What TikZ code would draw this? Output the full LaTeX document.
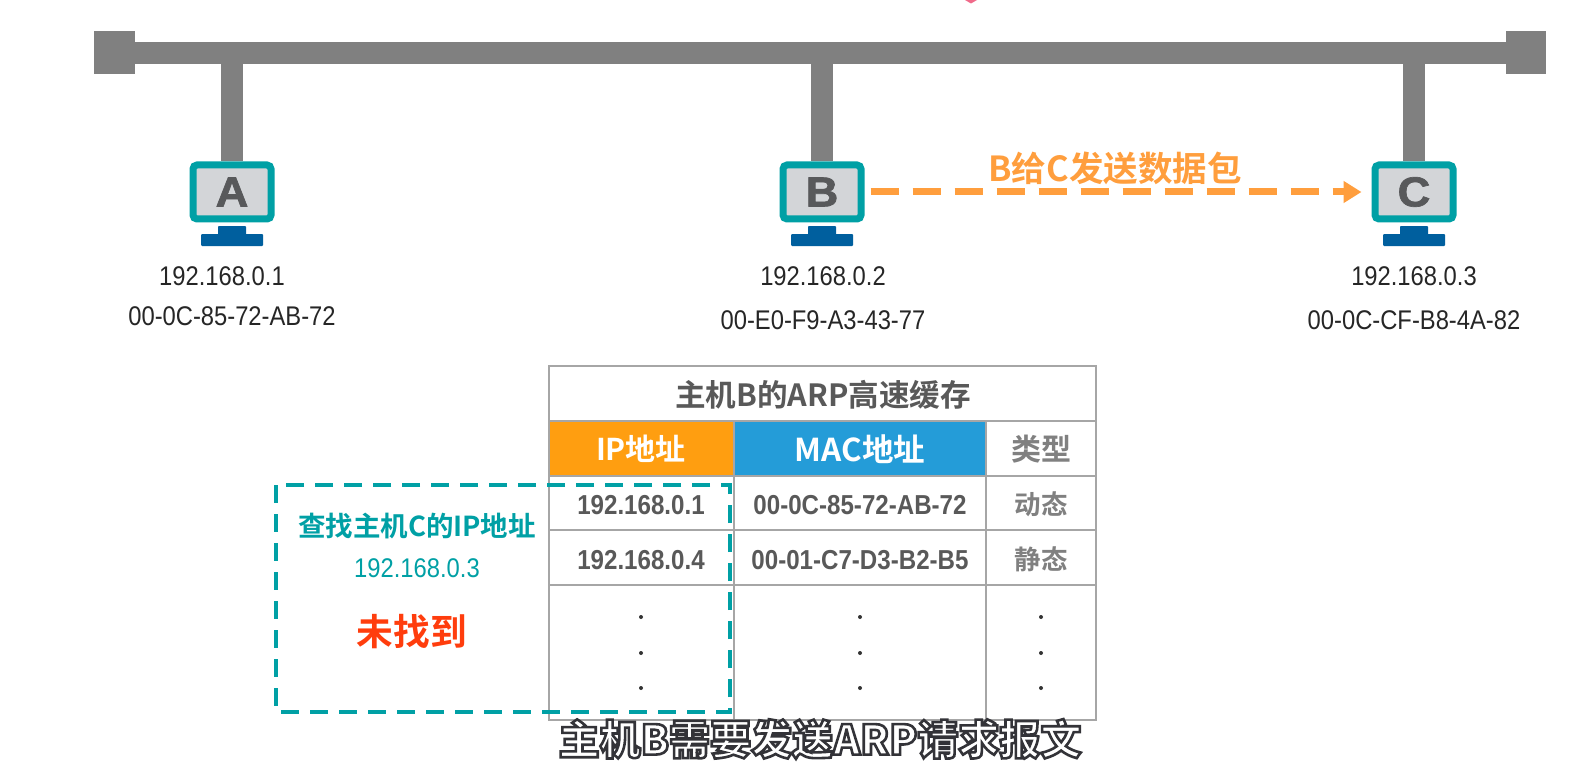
\documentclass[tikz,border=0pt]{standalone}
\usepackage{fontspec}
\usetikzlibrary{arrows.meta}
\setmainfont{Liberation Sans}
\newfontfamily\lat[FakeStretch=0.88]{Liberation Sans}
\newfontfamily\latb[FakeStretch=0.88]{Liberation Sans Bold}
\newfontfamily\pcf[FakeBold=1.6,FakeStretch=1.08]{Liberation Sans Bold}
\newfontfamily\cjk{Noto Sans CJK SC Bold}
\newfontfamily\cjkh{Noto Sans CJK SC Black}
\newcommand{\fs}[1]{\fontsize{#1}{#1}\selectfont}
\newcommand{\outlined}[1]{\special{pdf:code q 2 Tr 2.6 w 0.2 0.2 0.22 RG}#1\special{pdf:code 0 Tr Q}}
\definecolor{bus}{HTML}{808080}
\definecolor{teal1}{HTML}{00A0A5}
\definecolor{screen1}{HTML}{D3D5D8}
\definecolor{stand1}{HTML}{005F9E}
\definecolor{letter1}{HTML}{58595B}
\definecolor{orange1}{HTML}{FF9E3D}
\definecolor{hdro}{HTML}{FF9E10}
\definecolor{hdrb}{HTML}{249CD8}
\definecolor{grid1}{HTML}{A6A6A6}
\definecolor{txt1}{HTML}{595959}
\definecolor{txt2}{HTML}{808080}
\definecolor{red1}{HTML}{FF3D0D}
\definecolor{pink1}{HTML}{F06A8A}
\tikzset{
  busbar/.style={fill=bus,draw=none},
  addr/.style={font=\lat\fs{27},text=black!85,inner sep=0pt,anchor=center},
  cellb/.style={font=\latb\fs{27.4},text=txt1,inner sep=0pt,anchor=center},
  cjkcell/.style={font=\cjk\fs{30},text=txt2,inner sep=0pt,anchor=center},
  dotc/.style={circle,fill=black!80,inner sep=0pt,minimum size=4pt},
  hline/.style={draw=grid1,line width=1.8pt},
}
\newcommand{\pc}[3]{% name, centre x, letter
  \begin{scope}[shift={(#2,0)}]
    \fill[stand1,rounded corners=0.8pt] (-14,226) rectangle (14,236);
    \fill[stand1,rounded corners=1pt] (-31,234) rectangle (31,246);
    \node[draw=teal1,line width=7pt,fill=screen1,rounded corners=4pt,minimum width=78pt,minimum height=54pt,inner sep=0pt,
      font=\pcf\fs{42},text=letter1] (#1) at (0,192) {#3};
  \end{scope}}
\begin{document}
\begin{tikzpicture}[x=1pt,y=-1pt]
\useasboundingbox (0,0) rectangle (1587,762);
\fill[white] (0,0) rectangle (1587,762);
% top pink mark
\fill[pink1] (965,0) -- (977,0) -- (971,3.5) -- cycle;
% bus
\fill[busbar] (94,31) rectangle (135,74);
\fill[busbar] (1506,31) rectangle (1546,74);
\fill[busbar] (135,42) rectangle (1506,64);
\coordinate (ja) at (232,63);
\coordinate (jb) at (822,63);
\coordinate (jc) at (1414,63);
\pc{A}{232}{A}
\pc{B}{822}{B}
\pc{C}{1414}{C}
\draw[bus,line width=22pt] (ja) -- (A.north);
\draw[bus,line width=22pt] (jb) -- (B.north);
\draw[bus,line width=22pt] (jc) -- (C.north);
% addresses
\node[addr] (ipa) at (222,276) {192.168.0.1};
\node[addr] (maca) at (232,316) {00-0C-85-72-AB-72};
\node[addr] (ipb) at (823,276) {192.168.0.2};
\node[addr] (macb) at (823,320) {00-E0-F9-A3-43-77};
\node[addr] (ipc) at (1414,276) {192.168.0.3};
\node[addr] (macc) at (1414,320) {00-0C-CF-B8-4A-82};
% arrow
\draw[orange1,line width=7pt,dash pattern=on 28pt off 14pt,-{Triangle[length=18pt,width=21pt]}] ([xshift=6pt]B.east) -- ([xshift=-10pt]C.west);
\node[font=\cjk\fs{34.5},text=orange1,inner sep=0pt] (lb) at (1115,168) {B给C发送数据包};
% table
\fill[hdro] (549,421) rectangle (734,476);
\fill[hdrb] (734,421) rectangle (986,476);
\draw[hline] (549,366) rectangle (1096,720);
\draw[hline] (549,421) -- (1096,421);
\draw[hline] (549,476) -- (1096,476);
\draw[hline] (549,530) -- (1096,530);
\draw[hline] (549,585) -- (1096,585);
\draw[hline] (734,421) -- (734,720);
\draw[hline] (986,421) -- (986,720);
\node[font=\cjk\fs{30.6},text=txt1,inner sep=0pt] (title) at (823,395) {主机B的ARP高速缓存};
\node[font=\cjk\fs{30},text=white,inner sep=0pt] (h1) at (641,449) {IP地址};
\node[font=\cjk\fs{31.5},text=white,inner sep=0pt] (h2) at (860,449) {MAC地址};
\node[cjkcell] (h3) at (1041,449) {类型};
\node[cellb] (r1a) at (641,505) {192.168.0.1};
\node[cellb] (r1b) at (860,505) {00-0C-85-72-AB-72};
\node[cjkcell,font=\cjk\fs{26.5}] (r1c) at (1041,504) {动态};
\node[cellb] (r2a) at (641,560) {192.168.0.4};
\node[cellb] (r2b) at (860,560) {00-01-C7-D3-B2-B5};
\node[cjkcell,font=\cjk\fs{26.5}] (r2c) at (1041,559) {静态};
\foreach \x/\n in {641/a,860/b,1041/c}{
  \foreach \y in {617,653,688}{
    \node[dotc] (d\n\y) at (\x,\y) {};
  }
}
% dashed box
\draw[teal1,line width=4.5pt,dash pattern=on 18pt off 11pt] (276,485) rectangle (730,712);
\node[font=\cjk\fs{27.5},text=teal1,inner sep=0pt] (q1) at (417,526) {查找主机C的IP地址};
\node[font=\lat\fs{27},text=teal1,inner sep=0pt] (q2) at (417,568) {192.168.0.3};
\node[font=\cjk\fs{36.7},text=red1,inner sep=0pt] (q3) at (412,632) {未找到};
% caption
\node[font=\cjkh\fs{41},text=white,inner sep=0pt] (cap) at (820,739) {\outlined{主机B需要发送ARP请求报文}};
\end{tikzpicture}
\end{document}
